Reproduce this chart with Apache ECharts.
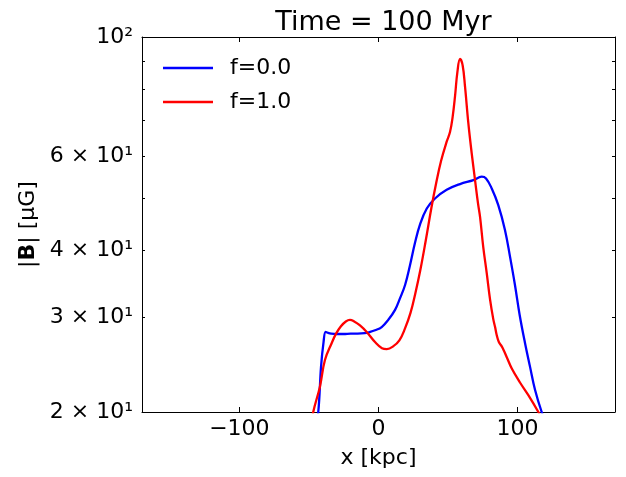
<!DOCTYPE html>
<html>
<head>
<meta charset="utf-8">
<script src="https://cdn.jsdelivr.net/npm/echarts@6/dist/echarts.min.js"></script>
<style>
  html, body { margin: 0; padding: 0; background: #fff; }
  #chart { width: 626px; height: 477px; }
</style>
</head>
<body>
<div id="chart"></div>
<script>
// x [kpc] and |B| [uG]
const blueX = [-47, -43.3, -41.3, -39.5, -38.0, -36.5, -34, -30, -25, -20, -15, -10, -6, -2.5, 2.3, 7.0, 11.9, 15.5, 19.1, 22.6, 26.2, 29.8, 34.7, 40.6, 49.0, 58.6, 68.2, 74.2, 77.3, 81.4, 86.1, 90.9, 94.5, 98.0, 101.5, 105.3, 108.9, 112.5, 117.3, 120];
const blueB = [17, 20, 24.3, 27.0, 28.2, 28.1, 28.0, 27.95, 27.95, 28.0, 28.0, 28.05, 28.2, 28.4, 28.8, 29.7, 31.0, 32.6, 34.5, 37.5, 41.3, 44.7, 47.9, 50.0, 51.9, 53.2, 54.1, 54.9, 54.5, 52.2, 48.6, 43.7, 39.0, 34.6, 30.3, 26.9, 24.3, 22.0, 20.0, 19.3];

const redX = [-49, -46.9, -42.1, -38.5, -33.6, -30.5, -27, -23.5, -20.5, -17.5, -13.3, -8.5, -2.5, 2.5, 6.0, 10.5, 15.0, 19.0, 23.0, 26.5, 30.0, 34.0, 38.0, 41.5, 45.0, 49.0, 51.4, 53.3, 55.0, 56.7, 58.6, 60.5, 62.2, 64.6, 67.0, 69.4, 71.5, 73.0, 75.3, 77.8, 80.2, 82.5, 83.8, 85.0, 86.5, 88.6, 90.5, 92.2, 95.8, 101.7, 107.7, 114.9, 118];
const redB = [18.3, 20, 22.3, 25.0, 26.9, 28.0, 28.9, 29.5, 29.7, 29.5, 29.0, 28.2, 27.0, 26.3, 26.2, 26.5, 27.2, 28.6, 30.6, 33.3, 36.7, 41.8, 48.0, 53.5, 58.8, 63.8, 66.5, 71.0, 77.5, 86.0, 91.0, 88.5, 80.8, 69.0, 60.7, 54.1, 49.0, 46.2, 40.6, 36.3, 32.4, 29.8, 28.8, 27.8, 27.0, 26.5, 25.9, 25.3, 24.1, 22.7, 21.5, 20.0, 19.3];

const xTicks = [-100, 0, 100];
const yTickValues = [20, 30, 40, 60, 100];
const yTickLabels = ['2 × 10¹', '3 × 10¹', '4 × 10¹', '6 × 10¹', '10²'];
const yMinorTicks = [50, 70, 80, 90];

const font = 'DejaVu Sans';
const lg = (v) => Math.log10(v);
const pairs = (xs, ys) => xs.map((x, i) => [x, lg(ys[i])]);

const yLabelFor = (v) => {
  const raw = Math.round(Math.pow(10, v));
  const i = yTickValues.indexOf(raw);
  return i >= 0 ? yTickLabels[i] : '';
};

const allYTicks = yTickValues.concat(yMinorTicks).map(lg);

const xAxisBase = {
  type: 'value',
  min: -170,
  max: 170,
  splitLine: { show: false },
  axisLine: { show: true, onZero: false, lineStyle: { color: '#000', width: 1 } },
  axisTick: { show: true, inside: true, length: 5, customValues: xTicks, lineStyle: { color: '#000' } },
};

const yAxisBase = {
  type: 'value',
  min: lg(20),
  max: 2,
  splitLine: { show: false },
  axisLine: { show: true, onZero: false, lineStyle: { color: '#000', width: 1 } },
  axisTick: { show: true, inside: true, length: 3, customValues: allYTicks, lineStyle: { color: '#000' } },
};

const option = {
  animation: false,
  textStyle: { fontFamily: font },
  title: {
    text: 'Time = 100 Myr',
    left: 378.5,
    textAlign: 'center',
    top: 4,
    textStyle: { fontFamily: font, fontSize: 27, fontWeight: 'normal', color: '#000' },
  },
  legend: {
    orient: 'vertical',
    left: 158,
    top: 52,
    icon: 'rect',
    itemWidth: 50,
    itemHeight: 2.5,
    itemGap: 12,
    textStyle: { fontFamily: font, fontSize: 22, color: '#000', padding: [0, 0, 0, 12] },
    data: ['f=0.0', 'f=1.0'],
  },
  grid: {
    left: 142,
    right: 11,
    top: 37,
    bottom: 65,
    outerBoundsMode: 'none',
  },
  xAxis: [
    Object.assign({}, xAxisBase, {
      position: 'bottom',
      name: 'x [kpc]',
      nameLocation: 'middle',
      nameGap: 35,
      nameTextStyle: { fontFamily: font, fontSize: 22, color: '#000' },
      axisLabel: {
        show: true,
        margin: 6,
        customValues: xTicks,
        fontFamily: font,
        fontSize: 22,
        color: '#000',
        formatter: (v) => (v < 0 ? '\u2212' + Math.abs(v) : String(v)),
      },
    }),
    Object.assign({}, xAxisBase, {
      position: 'top',
      axisLabel: { show: false },
    }),
  ],
  yAxis: [
    Object.assign({}, yAxisBase, {
      position: 'left',
      name: '|{b|B}| [μG]',
      nameLocation: 'middle',
      nameGap: 96,
      nameTextStyle: {
        fontFamily: font,
        fontSize: 22,
        color: '#000',
        rich: { b: { fontFamily: font, fontSize: 22, fontWeight: 'bold', color: '#000' } },
      },
      axisLabel: {
        show: true,
        margin: 9,
        customValues: yTickValues.map(lg),
        fontFamily: font,
        fontSize: 22,
        color: '#000',
        formatter: yLabelFor,
      },
    }),
    Object.assign({}, yAxisBase, {
      position: 'right',
      axisLabel: { show: false },
    }),
  ],
  series: [
    {
      name: 'f=0.0',
      type: 'line',
      data: pairs(blueX, blueB),
      symbol: 'none',
      smooth: 0.4,
      lineStyle: { color: '#0000ff', width: 2.3 },
      itemStyle: { color: '#0000ff' },
    },
    {
      name: 'f=1.0',
      type: 'line',
      data: pairs(redX, redB),
      symbol: 'none',
      smooth: 0.4,
      lineStyle: { color: '#ff0000', width: 2.3 },
      itemStyle: { color: '#ff0000' },
    },
  ],
};

const chart = echarts.init(document.getElementById('chart'));
chart.setOption(option);
window.addEventListener('resize', () => chart.resize());
</script>
</body>
</html>
